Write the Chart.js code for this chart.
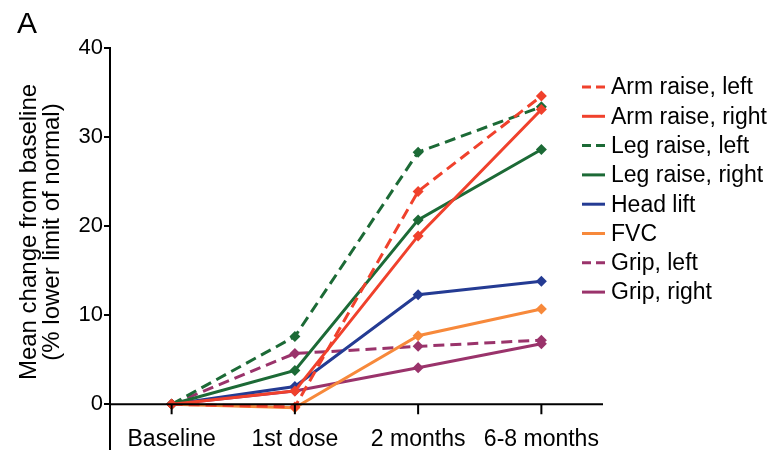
<!DOCTYPE html>
<html>
<head>
<meta charset="utf-8">
<script src="https://cdn.jsdelivr.net/npm/chart.js@4"></script>
<style>
    html, body { margin: 0; padding: 0; background: #fff; }
    #wrap { width: 767px; height: 463px; position: relative; }
</style>
</head>
<body>
<div id="wrap"><canvas id="myChart" width="767" height="463"></canvas></div>
<script>
// categories on the x axis
const categories = ['Baseline', '1st dose', '2 months', '6-8 months'];

// series values (mean change from baseline, % LLN)
const armRaiseLeft = [0, -0.3, 23.9, 34.6];
const armRaiseRight = [0, 1.5, 18.9, 33.1];
const legRaiseLeft = [0, 7.6, 28.3, 33.4];
const legRaiseRight = [0, 3.8, 20.7, 28.6];
const headLift = [0, 2.0, 12.3, 13.8];
const fvc = [0, -0.4, 7.7, 10.7];
const gripLeft = [0, 5.7, 6.5, 7.2];
const gripRight = [0, 1.5, 4.1, 6.8];

// y tick labels that are shown
const yTickLabels = [0, 10, 20, 30, 40];

const FONT = '"Liberation Sans", Arial, sans-serif';
const RED = '#f0412c';
const GREEN = '#1c6a36';
const BLUE = '#243b93';
const ORANGE = '#f7893b';
const PURPLE = '#9a336b';
const DASH = [11, 6];

function makeSet(label, data, color, dashed) {
    return {
        label: label,
        data: data,
        borderColor: color,
        backgroundColor: color,
        borderWidth: 3,
        borderDash: dashed ? DASH : [],
        pointStyle: 'rectRot',
        pointRadius: 5.5,
        pointHoverRadius: 5.5,
        pointBorderWidth: 0,
        tension: 0,
        fill: false
    };
}

// draws the zero line with category ticks and labels, the y title, the "A" tag and the legend
const extras = {
    id: 'extras',
    afterDatasetsDraw(chart) {
        const ctx = chart.ctx;
        const x = chart.scales.x;
        const y = chart.scales.y;
        const area = chart.chartArea;
        const y0 = y.getPixelForValue(0);
        ctx.save();
        ctx.strokeStyle = '#000';
        ctx.lineWidth = 2;
        ctx.setLineDash([]);
        ctx.beginPath();
        ctx.moveTo(area.left, y0);
        ctx.lineTo(area.right, y0);
        categories.forEach((c, i) => {
            const px = x.getPixelForValue(i);
            ctx.moveTo(px, y0);
            ctx.lineTo(px, y0 + 10);
        });
        ctx.stroke();

        ctx.fillStyle = '#000';
        ctx.font = '23px ' + FONT;
        ctx.textAlign = 'center';
        ctx.textBaseline = 'middle';
        categories.forEach((c, i) => {
            ctx.fillText(c, x.getPixelForValue(i), 440);
        });

        // y axis title
        ctx.save();
        ctx.translate(0, 232);
        ctx.rotate(-Math.PI / 2);
        ctx.font = '24px ' + FONT;
        ctx.fillText('Mean change from baseline', 0, 29);
        ctx.fillText('(% lower limit of normal)', 0, 52);
        ctx.restore();

        ctx.font = '30px ' + FONT;
        ctx.textAlign = 'left';
        ctx.fillText('A', 17, 25);

        // legend
        ctx.font = '23px ' + FONT;
        chart.data.datasets.forEach((ds, i) => {
            const ly = 87 + i * 29.3;
            ctx.strokeStyle = ds.borderColor;
            ctx.lineWidth = 3;
            ctx.setLineDash(ds.borderDash.length ? [9, 5] : []);
            ctx.beginPath();
            ctx.moveTo(582, ly);
            ctx.lineTo(605, ly);
            ctx.stroke();
            ctx.fillStyle = '#000';
            ctx.fillText(ds.label, 611, ly + 1);
        });
        ctx.restore();
    }
};

window.onload = () => {
    const chartContext = document.getElementById('myChart').getContext('2d');
    const chartConfig = {
        type: 'line',
        data: {
            labels: categories,
            datasets: [
                makeSet('Arm raise, left', armRaiseLeft, RED, true),
                makeSet('Arm raise, right', armRaiseRight, RED, false),
                makeSet('Leg raise, left', legRaiseLeft, GREEN, true),
                makeSet('Leg raise, right', legRaiseRight, GREEN, false),
                makeSet('Head lift', headLift, BLUE, false),
                makeSet('FVC', fvc, ORANGE, false),
                makeSet('Grip, left', gripLeft, PURPLE, true),
                makeSet('Grip, right', gripRight, PURPLE, false)
            ]
        },
        options: {
            responsive: false,
            animation: false,
            layout: { padding: { left: 0, top: 48, right: 164, bottom: 11 } },
            plugins: {
                legend: { display: false },
                tooltip: { enabled: false }
            },
            scales: {
                x: {
                    type: 'category',
                    offset: true,
                    display: false
                },
                y: {
                    min: -5,
                    max: 40,
                    afterFit: (scale) => { scale.width = 110; },
                    afterBuildTicks: (scale) => {
                        scale.ticks = [-5].concat(yTickLabels).map(v => ({ value: v }));
                    },
                    border: { display: true, color: '#000', width: 2 },
                    grid: {
                        drawOnChartArea: false,
                        drawTicks: true,
                        tickLength: 6,
                        lineWidth: 2,
                        color: (c) => (c.tick && c.tick.value < 0) ? 'rgba(0,0,0,0)' : '#000'
                    },
                    ticks: {
                        padding: 1,
                        color: '#000',
                        font: { family: FONT, size: 22 },
                        callback: (v) => v < 0 ? '' : v
                    }
                }
            }
        },
        plugins: [extras]
    };
    new Chart(chartContext, chartConfig);
};
</script>
</body>
</html>
